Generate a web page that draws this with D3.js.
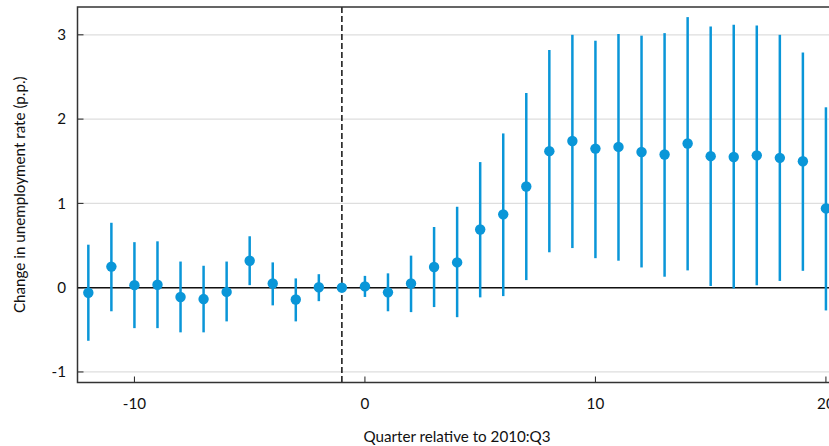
<!DOCTYPE html>
<html><head><meta charset="utf-8">
<script src="https://cdn.jsdelivr.net/npm/d3@7"></script>
<style>body{margin:0;background:#fff;overflow:hidden}svg{display:block}text{font-family:Lato,"Open Sans",sans-serif;fill:#111}</style>
</head><body><svg id="c" width="829" height="446"></svg>
<script>
const quarters = [-12,-11,-10,-9,-8,-7,-6,-5,-4,-3,-2,-1,0,1,2,3,4,5,6,7,8,9,10,11,12,13,14,15,16,17,18,19,20];
const estimate = [-0.06,0.25,0.03,0.035,-0.11,-0.135,-0.05,0.32,0.05,-0.14,0.005,0,0.015,-0.055,0.05,0.245,0.30,0.69,0.87,1.20,1.62,1.74,1.65,1.67,1.61,1.58,1.71,1.56,1.55,1.57,1.54,1.50,0.94];
const upper = [0.51,0.77,0.54,0.55,0.31,0.26,0.31,0.61,0.30,0.11,0.16,0,0.14,0.17,0.38,0.72,0.96,1.49,1.83,2.31,2.82,3.00,2.93,3.01,2.99,3.02,3.21,3.10,3.12,3.11,3.00,2.79,2.14];
const lower = [-0.63,-0.28,-0.48,-0.48,-0.53,-0.53,-0.40,0.03,-0.21,-0.40,-0.16,0,-0.11,-0.28,-0.29,-0.23,-0.35,-0.115,-0.10,0.09,0.42,0.47,0.35,0.32,0.24,0.13,0.205,0.02,-0.01,0.03,0.08,0.20,-0.27];
const xTicks = [-10,0,10,20];
const yTicks = [-1,0,1,2,3];
const eventQuarter = -1;
const xTitle = "Quarter relative to 2010:Q3";
const yTitle = "Change in unemployment rate (p.p.)";

const svg = d3.select("#c");
const L = 77.5, T = 7, B = 382.5;
const x = d3.scaleLinear().domain([-12.47, 20.5]).range([L, L + 32.97*23.05]);
const y = d3.scaleLinear().domain([-1.125, 3.33]).range([B, T]);
const blue = "#0a96d8";
const fs = 15.2;

// gridlines
svg.append("g").selectAll("line").data(yTicks).join("line")
  .attr("x1", L).attr("x2", 829).attr("y1", d=>y(d)).attr("y2", d=>y(d))
  .attr("stroke", "#dedede").attr("stroke-width", 1.2);
// y ticks
svg.append("g").selectAll("line").data(yTicks).join("line")
  .attr("x1", L).attr("x2", L+6).attr("y1", d=>y(d)).attr("y2", d=>y(d))
  .attr("stroke", "#222").attr("stroke-width", 1);
svg.append("g").selectAll("text").data(yTicks).join("text")
  .attr("x", 66).attr("y", d=>y(d)).attr("dy","0.35em").attr("text-anchor","end")
  .attr("font-size", fs).text(d=>d);
// x ticks
svg.append("g").selectAll("line").data(xTicks).join("line")
  .attr("x1", d=>x(d)).attr("x2", d=>x(d)).attr("y1", B).attr("y2", B-6)
  .attr("stroke", "#222").attr("stroke-width", 1);
svg.append("g").selectAll("text").data(xTicks).join("text")
  .attr("x", d=>x(d)).attr("y", 404).attr("dy","0.35em").attr("text-anchor","middle")
  .attr("font-size", fs).text(d=>d);
// zero line
svg.append("line").attr("x1", L).attr("x2", 829).attr("y1", y(0)).attr("y2", y(0))
  .attr("stroke", "#111").attr("stroke-width", 1.5);
// dashed event line
svg.append("line").attr("x1", x(eventQuarter)).attr("x2", x(eventQuarter)).attr("y1", T).attr("y2", B)
  .attr("stroke", "#111").attr("stroke-width", 1.5).attr("stroke-dasharray", "6,3");
// frame
svg.append("path").attr("d", `M829,${T}H${L}V${B}H829`).attr("fill","none").attr("stroke","#333").attr("stroke-width",1.5);

// error bars
const data = quarters.map((q,i)=>({q, e:estimate[i], u:upper[i], l:lower[i]}));
svg.append("g").selectAll("line").data(data.filter(d=>d.u!==d.l)).join("line")
  .attr("x1", d=>x(d.q)).attr("x2", d=>x(d.q)).attr("y1", d=>y(d.u)).attr("y2", d=>y(d.l))
  .attr("stroke", blue).attr("stroke-width", 2.5);
svg.append("g").selectAll("circle").data(data).join("circle")
  .attr("cx", d=>x(d.q)).attr("cy", d=>y(d.e)).attr("r", 5.2).attr("fill", blue);

// titles
svg.append("text").attr("x", 457).attr("y", 437).attr("dy","0.35em").attr("text-anchor","middle")
  .attr("font-size", fs).text(xTitle);
svg.append("text").attr("transform", `translate(20,${(T+B)/2}) rotate(-90)`).attr("dy","0.35em")
  .attr("text-anchor","middle").attr("font-size", fs).text(yTitle);
</script></body></html>
